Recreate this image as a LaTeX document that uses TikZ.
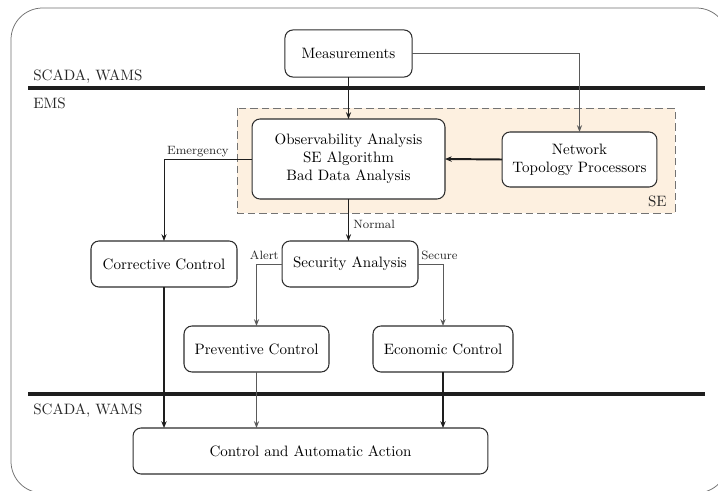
\documentclass[tikz,border=0pt]{standalone}
\usetikzlibrary{arrows.meta,positioning}
\definecolor{sefill}{RGB}{253,240,224}
\definecolor{boxline}{RGB}{45,45,45}
\definecolor{darkline}{RGB}{30,30,30}
\definecolor{greyline}{RGB}{90,90,90}
\definecolor{frameline}{RGB}{110,110,110}
\tikzset{
  blk/.style={draw=boxline, line width=0.7pt, rounded corners=5.3pt, fill=white,
    align=center, inner sep=0pt, outer sep=0pt, font=\normalsize},
  thinarrow/.style={draw=darkline, line width=0.6pt, -{Stealth[length=4.5pt,width=3.4pt]}},
  greyarrow/.style={draw=greyline, line width=0.6pt, -{Stealth[length=4.5pt,width=3.4pt]}},
  thickarrow/.style={draw=darkline, line width=1.3pt, -{Stealth[length=4.5pt,width=3.6pt]}},
  layerbar/.style={draw=darkline, line width=2pt},
  lbl/.style={font=\footnotesize, inner sep=0pt, text=black!85},
  layerlbl/.style={font=\normalsize, inner sep=0pt, text=black!85},
}
\begin{document}
\begin{tikzpicture}[x=0.665pt, y=-0.665pt]
\useasboundingbox (0,0) rectangle (718,491);

% outer frame
\draw[frameline, line width=0.5pt, rounded corners=21pt] (11,8) rectangle (728,493);

% layer separators
\draw[layerbar] (28,88) -- (705,88);
\draw[layerbar] (28,394) -- (705,394);
\node[layerlbl, anchor=base west] (scadaTop) at (33,81) {SCADA, WAMS};
\node[layerlbl, anchor=base west] (ems) at (33,109) {EMS};
\node[layerlbl, anchor=base west] (scadaBot) at (33,414) {SCADA, WAMS};

% state estimation area
\draw[fill=sefill, draw=black!55, line width=0.6pt, dash pattern=on 5pt off 2.7pt]
  (237,108) rectangle (675,213);
\node[layerlbl, anchor=base east] (se) at (667,206) {SE};

% blocks
\node[blk, minimum width=84.5pt, minimum height=31.3pt] (meas) at (348.5,53.5) {Measurements};
\node[blk, minimum width=128.3pt, minimum height=53.2pt] (obs) at (348.5,159)
  {Observability Analysis\\SE Algorithm\\Bad Data Analysis};
\node[blk, minimum width=103pt, minimum height=36.6pt] (net) at (579.5,159.5)
  {Network\\Topology Processors};
\node[blk, minimum width=97.1pt, minimum height=30.6pt] (corr) at (164,264) {Corrective Control};
\node[blk, minimum width=90.4pt, minimum height=30.6pt] (sec) at (350,264) {Security Analysis};
\node[blk, minimum width=96.4pt, minimum height=30.6pt] (prev) at (256.5,349) {Preventive Control};
\node[blk, minimum width=93.1pt, minimum height=30.6pt] (eco) at (443,349) {Economic Control};
\node[blk, minimum width=236pt, minimum height=30.6pt] (act) at (310.5,451) {Control and Automatic Action};

% connectors
\draw[thinarrow] (meas.south) -- (obs.north);
\draw[greyarrow] (meas.east) -| (net.north);
\draw[thickarrow] (net.west) -- (obs.east);
\draw[thinarrow] (obs.west) -| (corr.north);
\draw[thinarrow] (obs.south) -- (sec.north -| obs.south);
\draw[greyarrow] (sec.west) -| (prev.north);
\draw[greyarrow] (sec.east) -| (eco.north);
\draw[thickarrow] (corr.south) -- (corr.south |- act.north);
\draw[greyarrow] (prev.south) -- (prev.south |- act.north);
\draw[thickarrow] (eco.south) -- (eco.south |- act.north);

% connector labels
\node[lbl, anchor=base east] (lemerg) at (229,155) {Emergency};
\node[lbl, anchor=base west] (lnormal) at (353,229) {Normal};
\node[lbl, anchor=base east] (lalert) at (279,259) {Alert};
\node[lbl, anchor=base west] (lsecure) at (421,259) {Secure};
\end{tikzpicture}
\end{document}
